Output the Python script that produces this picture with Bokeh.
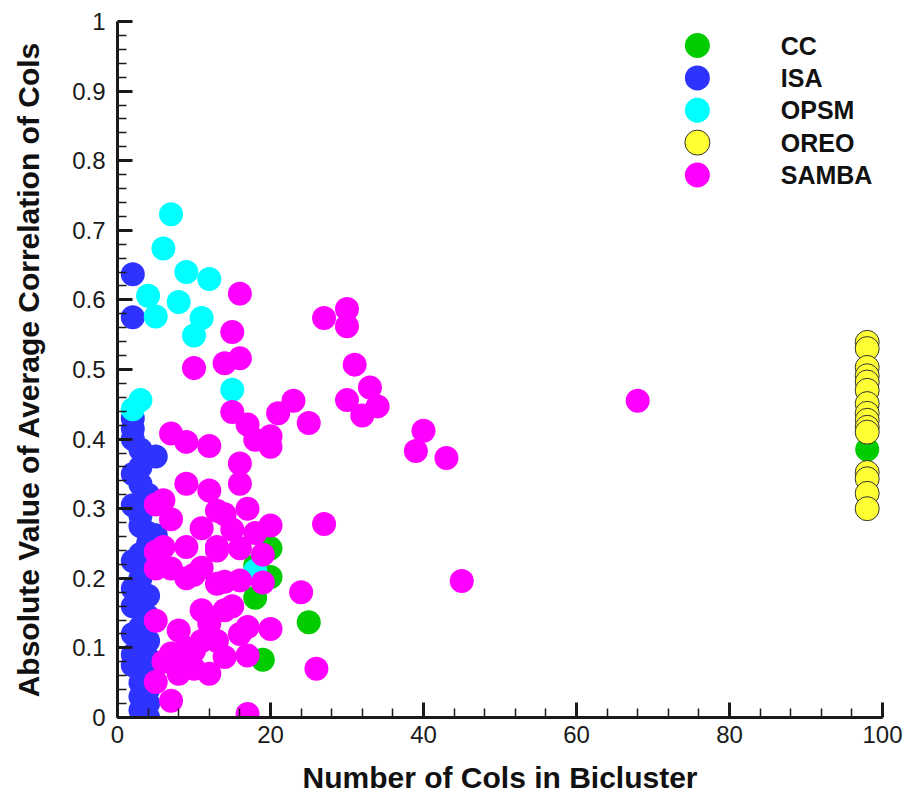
import numpy as np
from bokeh.plotting import figure
from bokeh.models import FixedTicker, Range1d
from bokeh.core.properties import value
from bokeh.embed import file_html
from bokeh.resources import INLINE

# Bicluster column counts (x) and absolute mean column correlation (y), per algorithm
cc_x = [98, 25, 19, 20, 20, 18, 18]
cc_y = [0.385, 0.137, 0.083, 0.243, 0.202, 0.172, 0.218]

isa_x = [2, 2, 2, 2, 2, 5, 3, 3, 2, 3, 4, 2, 3, 3, 4, 5, 4, 3, 2, 4, 3, 2, 4, 3,
         2, 4, 3, 2, 4, 3, 2, 4, 3, 2, 4, 3, 4, 3, 4, 3, 4]
isa_y = [0.637, 0.575, 0.43, 0.415, 0.40, 0.375, 0.385, 0.36, 0.35, 0.335, 0.32,
         0.305, 0.29, 0.275, 0.265, 0.262, 0.25, 0.235, 0.225, 0.215, 0.20, 0.185,
         0.175, 0.165, 0.16, 0.145, 0.13, 0.12, 0.11, 0.10, 0.09, 0.085, 0.07,
         0.075, 0.06, 0.05, 0.04, 0.03, 0.02, 0.01, 0.0]

opsm_x = [7, 6, 9, 12, 4, 8, 5, 11, 10, 15, 3, 2, 18]
opsm_y = [0.723, 0.674, 0.640, 0.630, 0.606, 0.597, 0.576, 0.574, 0.549, 0.471,
          0.456, 0.443, 0.211]

oreo_x = [98] * 15
oreo_y = [0.539, 0.530, 0.503, 0.491, 0.482, 0.470, 0.451, 0.437, 0.427, 0.417,
          0.410, 0.352, 0.343, 0.322, 0.300]

samba_x = [16, 27, 30, 30, 15, 16, 14, 10, 31, 33, 30, 34, 32, 23, 25, 21, 15, 17,
           40, 39, 43, 68, 7, 9, 12, 18, 20, 20, 16, 16, 9, 12, 17, 13, 14, 5, 6, 7,
           11, 15, 20, 18, 27, 19, 6, 9, 13, 16, 5, 13, 5, 7, 9, 10, 13, 16, 19, 14,
           11, 24, 45, 11, 14, 5, 8, 17, 20, 12, 7, 10, 14, 17, 9, 11, 5, 8, 12, 7,
           17, 26, 6, 15, 16, 13, 10, 8]
samba_y = [0.609, 0.574, 0.587, 0.562, 0.554, 0.516, 0.509, 0.502, 0.507, 0.474,
           0.456, 0.447, 0.434, 0.455, 0.423, 0.437, 0.439, 0.421, 0.412, 0.383,
           0.373, 0.455, 0.408, 0.396, 0.390, 0.399, 0.404, 0.389, 0.365, 0.336,
           0.336, 0.326, 0.300, 0.297, 0.292, 0.306, 0.312, 0.285, 0.272, 0.270,
           0.276, 0.265, 0.278, 0.234, 0.245, 0.245, 0.245, 0.243, 0.238, 0.240,
           0.214, 0.214, 0.200, 0.205, 0.192, 0.197, 0.194, 0.195, 0.215, 0.180,
           0.196, 0.154, 0.154, 0.139, 0.125, 0.130, 0.127, 0.135, 0.092, 0.096,
           0.087, 0.089, 0.100, 0.110, 0.051, 0.063, 0.063, 0.024, 0.005, 0.070,
           0.080, 0.160, 0.120, 0.110, 0.070, 0.090]

series_names = ["CC", "ISA", "OPSM", "OREO", "SAMBA"]
series_colors = ["#00cc00", "#2e33ff", "#00ffff", "#ffff33", "#ff00ff"]
series_outline = [None, None, None, "#333333", None]

x_ticks = [0, 20, 40, 60, 80, 100]
x_tick_labels = ["0", "20", "40", "60", "80", "100"]
y_ticks = [0, 0.1, 0.2, 0.3, 0.4, 0.5, 0.6, 0.7, 0.8, 0.9, 1.0]
y_tick_labels = ["0", "0.1", "0.2", "0.3", "0.4", "0.5", "0.6", "0.7", "0.8", "0.9", "1"]

FONT = "Liberation Sans"
SIZE = 24

p = figure(width=910, height=803, output_backend="svg", toolbar_location=None,
           x_range=Range1d(0, 100), y_range=Range1d(0, 1),
           min_border_left=117, min_border_right=28,
           min_border_top=21, min_border_bottom=86)
p.outline_line_color = None
p.xgrid.visible = False
p.ygrid.visible = False

p.xaxis.ticker = FixedTicker(ticks=x_ticks, minor_ticks=list(np.arange(0, 100.1, 4)))
p.yaxis.ticker = FixedTicker(ticks=y_ticks,
                             minor_ticks=[round(v, 2) for v in np.arange(0, 1.001, 0.02)])
p.xaxis.major_label_overrides = dict(zip(x_ticks, x_tick_labels))
p.yaxis.major_label_overrides = dict(zip(y_ticks, y_tick_labels))

for ax in (p.xaxis, p.yaxis):
    ax.axis_line_width = 3
    ax.axis_line_color = "#1a1a1a"
    ax.major_tick_line_width = 3
    ax.major_tick_line_color = "#1a1a1a"
    ax.minor_tick_line_width = 1.5
    ax.minor_tick_line_color = "#1a1a1a"
    ax.major_tick_in = 15
    ax.major_tick_out = 0
    ax.minor_tick_in = 9
    ax.minor_tick_out = 0
    ax.major_label_text_font = FONT
    ax.major_label_text_font_size = "24px"
    ax.major_label_text_color = "#1a1a1a"
    ax.axis_label_text_font = FONT
    ax.axis_label_text_font_size = "30px"
    ax.axis_label_text_font_style = "bold"
    ax.axis_label_text_color = "#111111"

p.xaxis.axis_label = "Number of Cols in Bicluster"
p.yaxis.axis_label = "Absolute Value of Average Correlation of Cols"
p.xaxis.major_label_standoff = 8
p.yaxis.major_label_standoff = 12
p.xaxis.axis_label_standoff = 15
p.yaxis.axis_label_standoff = 24

# data markers, drawn in series order so later series sit on top
xs = [cc_x, isa_x, opsm_x, oreo_x, samba_x]
ys = [cc_y, isa_y, opsm_y, oreo_y, samba_y]
for sx, sy, col, outline in zip(xs, ys, series_colors, series_outline):
    p.scatter(sx, sy, size=SIZE, fill_color=col,
              line_color=outline, line_width=1 if outline else 0)

# key in the upper right: marker column, then bold labels
key_x = 75.8
key_label_x = 86.7
key_top = 0.9655
key_step = 0.0465
key_y = [key_top - i * key_step for i in range(len(series_names))]
for yy, col, outline in zip(key_y, series_colors, series_outline):
    p.scatter([key_x], [yy], size=SIZE + 1, fill_color=col,
              line_color=outline, line_width=1 if outline else 0)
p.text(x=[key_label_x] * len(series_names), y=key_y, text=series_names,
       text_font=value(FONT), text_font_size="25px", text_font_style="bold",
       text_color="#111111", text_baseline="middle", text_align="left")

open("out.html", "w").write(file_html(p, INLINE))
